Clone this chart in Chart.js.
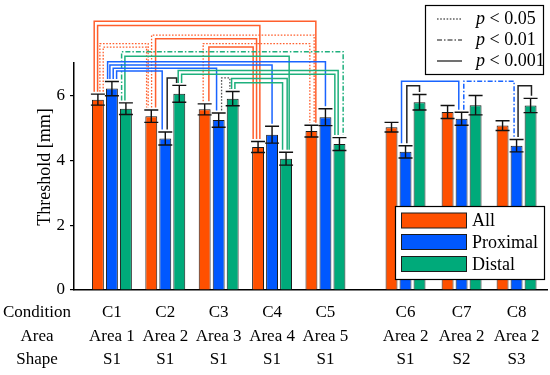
<!DOCTYPE html>
<html><head><meta charset="utf-8">
<script src="https://cdn.jsdelivr.net/npm/chart.js@4.4.1/dist/chart.umd.min.js"></script>
<style>html,body{margin:0;padding:0;background:#fff;}canvas{display:block;}</style>
</head><body>
<canvas id="c" width="550" height="375"></canvas>
<script>
// ---------- data ----------
const conditions = ['C1','C2','C3','C4','C5','C6','C7','C8'];
const areas = ['Area 1','Area 2','Area 3','Area 4','Area 5','Area 2','Area 2','Area 2'];
const shapes = ['S1','S1','S1','S1','S1','S1','S2','S3'];
const rowHeaders = ['Condition','Area','Shape'];
const seriesNames = ['All','Proximal','Distal'];
const allValues      = [5.87, 5.36, 5.57, 4.41, 4.90, 5.02, 5.49, 5.07];
const allErrors      = [0.17, 0.19, 0.17, 0.17, 0.18, 0.15, 0.20, 0.15];
const proximalValues = [6.21, 4.67, 5.24, 4.79, 5.33, 4.26, 5.28, 4.45];
const proximalErrors = [0.22, 0.20, 0.22, 0.26, 0.26, 0.19, 0.20, 0.19];
const distalValues   = [5.59, 6.05, 5.90, 4.05, 4.50, 5.79, 5.70, 5.69];
const distalErrors   = [0.18, 0.26, 0.22, 0.20, 0.20, 0.24, 0.30, 0.22];
const yTicks = [0, 2, 4, 6];
const yTitle = 'Threshold [mm]';
const pLabels = ['< 0.05', '< 0.01', '< 0.001'];
const pKeys = ['p05', 'p01', 'p001'];
// significance brackets: [groupA, seriesA, groupB, seriesB, level (mm), significance]
const brackets = [
  [0,0,4,0,8.29,'p001'], [0,0,3,0,8.16,'p001'], [1,0,4,0,7.86,'p05'], [1,0,3,0,7.75,'p001'],
  [0,0,1,0,7.60,'p05'],  [0,0,1,0,7.49,'p05'],  [2,0,4,0,7.60,'p05'], [2,0,3,0,7.49,'p001'],
  [0,2,4,2,7.35,'p01'],  [0,2,3,2,7.21,'p001'],
  [0,1,4,1,7.04,'p001'], [0,1,3,1,6.94,'p001'], [0,1,2,1,6.84,'p001'], [0,1,1,1,6.75,'p001'],
  [1,2,4,2,6.77,'p001'], [1,2,4,2,6.65,'p001'], [2,2,3,2,6.52,'p001'], [2,2,3,2,6.39,'p001'],
  [1,1,1,2,6.54,'p001'], [2,1,2,2,6.54,'p05'],
  [5,1,6,1,6.44,'p001'], [6,1,7,1,6.44,'p01'], [5,1,5,2,6.30,'p001'], [7,1,7,2,6.30,'p001']
];

// ---------- layout / style (not data) ----------
const groupSlots = [0, 1, 2, 3, 4, 5.5, 6.55, 7.58];
const bracketDx = [
  [-3.7,4.4],[-0.3,1.8],[0.3,2.7],[4.3,-1.5],
  [2,-3.1],[5.3,-4.7],[-1.5,-1.6],[4.2,-4.9],
  [-4.3,3.7],[-1,3.1],
  [-4.3,0],[-2,0],[1.3,-2.1],[4.7,-3.1],
  [-1.1,-1.3],[2.3,-4.6],[-1.1,1.1],[2.2,-3.5],
  [1.9,-2.7],[2.9,-2.8],
  [-4,-2.8],[2.2,-2.5],[1.3,0],[1.5,0.9]
];
const FONT = "'Liberation Serif', 'Times New Roman', serif";
const barColors = ['rgb(255,80,0)', 'rgb(0,88,255)', 'rgb(0,170,122)'];
const lineColors = ['rgb(255,95,45)', 'rgb(25,100,255)', 'rgb(30,176,125)'];
const dashes = { p05: [1.6, 1.6], p01: [5, 2, 1.5, 2], p001: [] };

const seriesValues = [allValues, proximalValues, distalValues];
const seriesErrors = [allErrors, proximalErrors, distalErrors];

const datasets = seriesNames.map((name, i) => ({
  label: name,
  data: seriesValues[i].map((v, j) => ({ x: groupSlots[j], y: v })),
  backgroundColor: barColors[i],
  borderColor: '#1c1c1c',
  borderWidth: 1,
  categoryPercentage: 0.787,
  barPercentage: 0.85
}));

const overlay = {
  id: 'overlay',
  afterDatasetsDraw(chart) {
    const ctx = chart.ctx;
    const ys = chart.scales.y;
    ctx.save();
    // error bars
    ctx.strokeStyle = '#111';
    ctx.lineWidth = 1.4;
    ctx.setLineDash([]);
    seriesValues.forEach((vals, s) => {
      const meta = chart.getDatasetMeta(s);
      vals.forEach((v, g) => {
        const x = meta.data[g].x;
        const e = seriesErrors[s][g];
        const yt = ys.getPixelForValue(v + e), yb = ys.getPixelForValue(v - e);
        const hw = 7;
        ctx.beginPath();
        ctx.moveTo(x, yt); ctx.lineTo(x, yb);
        ctx.moveTo(x - hw, yt); ctx.lineTo(x + hw, yt);
        ctx.moveTo(x - hw, yb); ctx.lineTo(x + hw, yb);
        ctx.stroke();
      });
    });
    // brackets
    brackets.forEach((b, k) => {
      const [ga, sa, gb, sb, lvl, sig] = b;
      const xa = chart.getDatasetMeta(sa).data[ga].x + bracketDx[k][0];
      const xb = chart.getDatasetMeta(sb).data[gb].x + bracketDx[k][1];
      const yl = ys.getPixelForValue(lvl);
      const ya = ys.getPixelForValue(seriesValues[sa][ga] + seriesErrors[sa][ga]) - 2.5;
      const yb = ys.getPixelForValue(seriesValues[sb][gb] + seriesErrors[sb][gb]) - 2.5;
      let col = sa === sb ? lineColors[sa] : '#222';
      if (sa !== sb && sig === 'p05') col = '#555';
      ctx.strokeStyle = col;
      ctx.lineWidth = sig === 'p05' ? 1.3 : 1.5;
      ctx.setLineDash(dashes[sig]);
      ctx.beginPath();
      ctx.moveTo(xa, ya); ctx.lineTo(xa, yl); ctx.lineTo(xb, yl); ctx.lineTo(xb, yb);
      ctx.stroke();
    });
    ctx.restore();
  },
  afterDraw(chart) {
    const ctx = chart.ctx;
    const xs = chart.scales.x;
    ctx.save();
    ctx.fillStyle = '#000';
    ctx.textBaseline = 'middle';
    ctx.textAlign = 'center';
    // y title
    ctx.font = '18px ' + FONT;
    ctx.save();
    ctx.translate(45, 167);
    ctx.rotate(-Math.PI / 2);
    ctx.fillText(yTitle, 0, 0);
    ctx.restore();
    // category rows
    ctx.font = '17px ' + FONT;
    const rows = [conditions, areas, shapes];
    const rowY = [313, 337, 360];
    rows.forEach((r, i) => {
      ctx.fillText(rowHeaders[i], 37, rowY[i]);
      r.forEach((t, g) => ctx.fillText(t, xs.getPixelForValue(groupSlots[g]), rowY[i]));
    });
    // significance legend
    ctx.fillStyle = '#fff';
    ctx.fillRect(425.5, 5.5, 118, 69);
    ctx.strokeStyle = '#000';
    ctx.lineWidth = 1.2;
    ctx.setLineDash([]);
    ctx.strokeRect(425.5, 5.5, 118, 69);
    const pRowY = [19, 40, 61];
    pKeys.forEach((k, i) => {
      ctx.strokeStyle = '#111';
      ctx.lineWidth = 1.2;
      ctx.setLineDash(dashes[k]);
      ctx.beginPath();
      ctx.moveTo(437, pRowY[i]); ctx.lineTo(462, pRowY[i]);
      ctx.stroke();
      ctx.setLineDash([]);
      ctx.fillStyle = '#000';
      ctx.textAlign = 'left';
      ctx.font = 'italic 18px ' + FONT;
      ctx.fillText('p', 476, pRowY[i]);
      const w = ctx.measureText('p ').width;
      ctx.font = '18px ' + FONT;
      ctx.fillText(pLabels[i], 476 + w, pRowY[i]);
    });
    // series legend
    ctx.fillStyle = '#fff';
    ctx.fillRect(395.5, 206.5, 149, 73);
    ctx.strokeStyle = '#000';
    ctx.lineWidth = 1.2;
    ctx.strokeRect(395.5, 206.5, 149, 73);
    const sRowY = [220.5, 242, 264];
    seriesNames.forEach((n, i) => {
      ctx.fillStyle = barColors[i];
      ctx.fillRect(401.5, sRowY[i] - 7.5, 65, 15);
      ctx.strokeStyle = '#1c1c1c';
      ctx.lineWidth = 1;
      ctx.strokeRect(401.5, sRowY[i] - 7.5, 65, 15);
      ctx.fillStyle = '#000';
      ctx.font = '18px ' + FONT;
      ctx.textAlign = 'left';
      ctx.fillText(n, 472, sRowY[i] + 1);
    });
    ctx.restore();
  }
};

Chart.defaults.font.family = FONT;
new Chart(document.getElementById('c'), {
  type: 'bar',
  data: { datasets },
  options: {
    responsive: false,
    animation: false,
    devicePixelRatio: 1,
    layout: { padding: { top: 63, right: 3, left: 0, bottom: 0 } },
    plugins: { legend: { display: false }, tooltip: { enabled: false } },
    scales: {
      x: {
        type: 'linear', min: -0.71, max: 8.15, offset: false,
        grid: { display: false, drawTicks: false },
        ticks: { display: false },
        border: { display: true, color: '#000', width: 1.5 },
        afterFit(s) { s.height = 85; }
      },
      y: {
        min: 0, max: 7,
        afterBuildTicks(s) { s.ticks = yTicks.map(v => ({ value: v })); },
        ticks: { color: '#000', font: { size: 17, family: FONT }, padding: 5 },
        grid: { drawOnChartArea: false, drawTicks: true, tickLength: 4, color: '#000', lineWidth: 1.2 },
        border: { display: true, color: '#000', width: 1.5 },
        afterFit(s) { s.width = 74; }
      }
    }
  },
  plugins: [overlay]
});
</script>
</body></html>
